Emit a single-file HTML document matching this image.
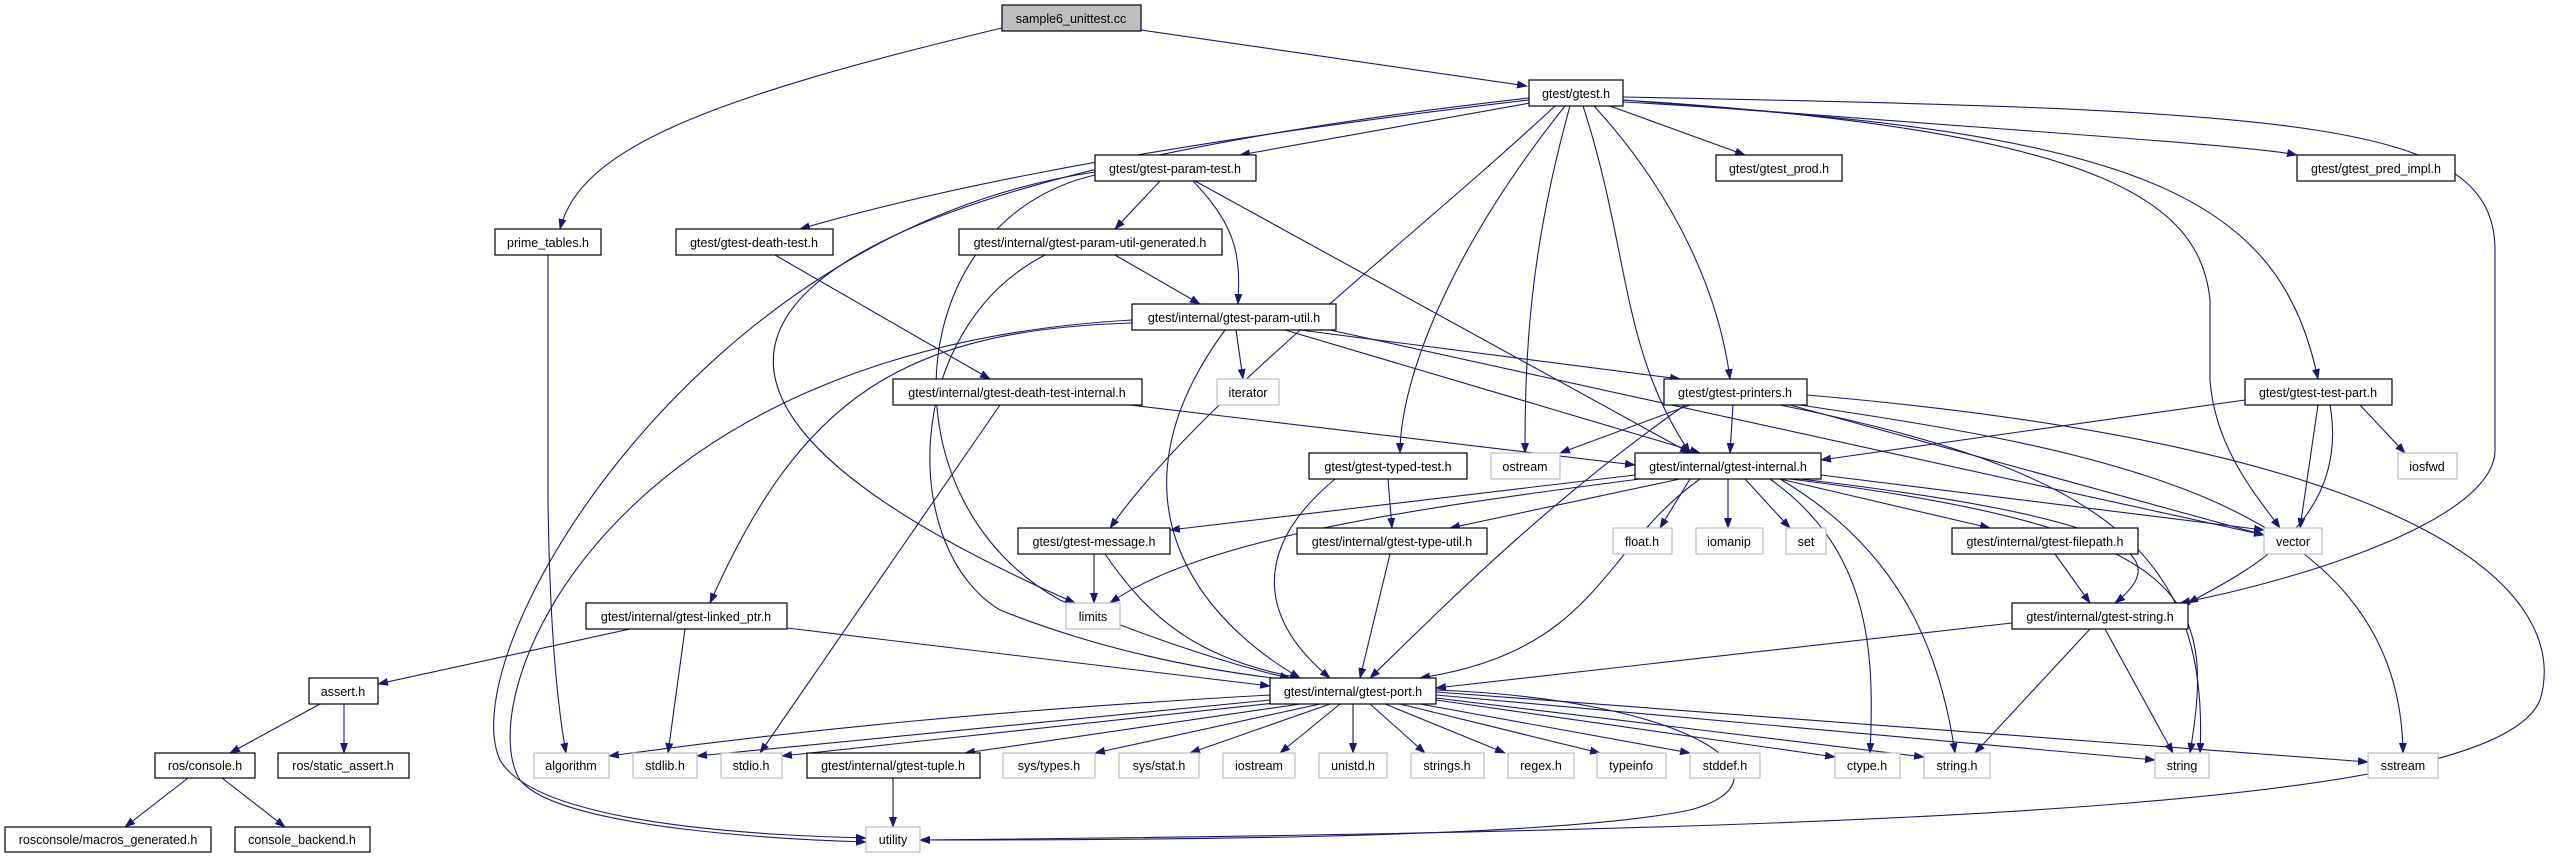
<!DOCTYPE html>
<html><head><meta charset="utf-8"><style>
html,body{margin:0;padding:0;background:#fff;}
svg{display:block;}
text{font-family:"Liberation Sans",sans-serif;font-size:12.5px;fill:#000;text-anchor:middle;}
.n{fill:#fff;stroke:#000;stroke-width:1.2;}
.g{fill:#fff;stroke:#bfbfbf;stroke-width:1.2;}
.e{fill:none;stroke:#191970;stroke-width:1.1;}
</style></head><body>
<svg width="2568" height="859" viewBox="0 0 2568 859" xmlns="http://www.w3.org/2000/svg">
<defs><marker id="a" markerWidth="11" markerHeight="8" refX="10" refY="4" orient="auto" markerUnits="userSpaceOnUse"><path d="M0,0 L11,4 L0,8 z" fill="#191970"/></marker></defs>
<g class="e" marker-end="url(#a)">
<path d="M1002,28 C700,100 580,150 560,229"/>
<path d="M1141,30 L1527,86"/>
<path d="M1530,103 L1240,155"/>
<path d="M1529,100 C1100,150 900,200 800,229"/>
<path d="M1610,106 L1745,155"/>
<path d="M1623,100 C2000,130 2250,145 2297,155"/>
<path d="M1594,106 C1680,200 1720,300 1730,379"/>
<path d="M1583,106 C1630,250 1620,350 1690,453"/>
<path d="M1565,106 C1450,250 1400,380 1400,453"/>
<path d="M1570,106 C1530,250 1525,350 1525,453"/>
<path d="M1555,106 C1400,250 1200,400 1110,528"/>
<path d="M1529,98 C800,180 500,350 1075,603"/>
<path d="M1623,100 C2100,130 2200,200 2210,300 L2210,380 C2215,450 2260,500 2280,528"/>
<path d="M1623,97 C2300,110 2495,120 2495,250 L2495,450 C2495,520 2300,580 2180,603"/>
<path d="M1623,102 C2150,130 2280,200 2318,379"/>
<path d="M548,255 L548,500 C550,650 560,720 566,753"/>
<path d="M775,255 L990,379"/>
<path d="M1160,181 L1115,229"/>
<path d="M1193,181 C1240,230 1240,260 1238,304"/>
<path d="M1195,181 L1690,453"/>
<path d="M1095,175 C900,220 880,500 1060,600 C1150,640 1250,670 1290,678"/>
<path d="M1095,172 C700,230 450,650 500,760 C540,830 800,836 866,838"/>
<path d="M1115,255 L1200,304"/>
<path d="M1045,255 C900,330 900,550 1000,610 C1100,650 1200,670 1290,680"/>
<path d="M1236,330 L1243,379"/>
<path d="M1300,330 L1680,379"/>
<path d="M1285,330 L1700,453"/>
<path d="M1132,323 C900,330 800,400 710,603"/>
<path d="M1225,330 C1100,500 1200,620 1300,678"/>
<path d="M1132,320 C600,350 470,700 520,780 C560,830 800,840 866,842"/>
<path d="M1330,330 L2264,535"/>
<path d="M1130,405 L1635,465"/>
<path d="M1000,405 L760,753"/>
<path d="M1733,405 L1730,453"/>
<path d="M1690,405 L1560,453"/>
<path d="M1685,405 C1550,500 1450,600 1370,678"/>
<path d="M1800,405 C2100,450 2400,500 2403,753"/>
<path d="M1780,405 C2100,470 2210,550 2200,753"/>
<path d="M1807,395 C2450,450 2570,600 2540,700 C2500,800 2000,830 920,840"/>
<path d="M1790,405 L2264,535"/>
<path d="M2245,400 L1821,460"/>
<path d="M2360,405 L2405,453"/>
<path d="M2318,405 L2300,528"/>
<path d="M2330,405 C2350,520 2250,570 2188,603"/>
<path d="M1388,479 L1392,528"/>
<path d="M1335,479 C1250,550 1260,620 1330,678"/>
<path d="M1635,475 L1170,530"/>
<path d="M1680,479 L1450,528"/>
<path d="M1690,479 L1660,528"/>
<path d="M1728,479 L1728,528"/>
<path d="M1745,479 L1790,528"/>
<path d="M1780,479 L1990,528"/>
<path d="M1800,479 C2150,520 2170,560 2115,603"/>
<path d="M1821,475 L2264,530"/>
<path d="M1640,479 C1400,510 1200,540 1110,603"/>
<path d="M1700,479 C1600,550 1600,650 1420,678"/>
<path d="M1770,479 C1870,550 1875,650 1870,753"/>
<path d="M1780,479 C1900,550 1940,650 1955,753"/>
<path d="M1790,479 C2200,530 2215,600 2190,753"/>
<path d="M1094,554 L1094,603"/>
<path d="M1105,554 C1150,620 1200,660 1300,678"/>
<path d="M1390,554 L1360,678"/>
<path d="M2055,554 L2090,603"/>
<path d="M2012,623 L1436,688"/>
<path d="M2090,629 L1975,753"/>
<path d="M2105,629 L2173,753"/>
<path d="M630,629 L378,684"/>
<path d="M685,629 L668,753"/>
<path d="M787,628 L1270,686"/>
<path d="M320,704 L230,753"/>
<path d="M344,704 L344,753"/>
<path d="M188,778 L125,827"/>
<path d="M222,778 L285,827"/>
<path d="M1270,695 C1000,710 800,730 609,756"/>
<path d="M1270,700 L697,756"/>
<path d="M1275,703 L782,756"/>
<path d="M1300,704 L965,753"/>
<path d="M1320,704 L1095,753"/>
<path d="M1330,704 L1190,753"/>
<path d="M1340,704 L1280,753"/>
<path d="M1353,704 L1353,753"/>
<path d="M1370,704 L1425,753"/>
<path d="M1385,704 L1505,753"/>
<path d="M1400,704 L1600,753"/>
<path d="M1420,704 L1690,753"/>
<path d="M1436,700 L1835,757"/>
<path d="M1436,698 L1924,757"/>
<path d="M1436,695 L2155,760"/>
<path d="M1436,692 L2368,762"/>
<path d="M1436,690 C1700,700 1800,780 1690,810 C1550,840 1100,840 920,840"/>
<path d="M893,778 L893,827"/>
</g>
<!-- nodes -->
<rect x="1002" y="5" width="139" height="26" fill="#bfbfbf" stroke="#000" stroke-width="1.2"/><text x="1071" y="23">sample6_unittest.cc</text>
<rect class="n" x="1529" y="80" width="94" height="26"/><text x="1576" y="98">gtest/gtest.h</text>
<rect class="n" x="1095" y="155" width="161" height="26"/><text x="1175" y="173">gtest/gtest-param-test.h</text>
<rect class="n" x="1716" y="155" width="126" height="26"/><text x="1779" y="173">gtest/gtest_prod.h</text>
<rect class="n" x="2297" y="155" width="158" height="26"/><text x="2376" y="173">gtest/gtest_pred_impl.h</text>
<rect class="n" x="495" y="229" width="106" height="26"/><text x="548" y="247">prime_tables.h</text>
<rect class="n" x="676" y="229" width="157" height="26"/><text x="754" y="247">gtest/gtest-death-test.h</text>
<rect class="n" x="959" y="229" width="263" height="26"/><text x="1090" y="247">gtest/internal/gtest-param-util-generated.h</text>
<rect class="n" x="1132" y="304" width="204" height="26"/><text x="1234" y="322">gtest/internal/gtest-param-util.h</text>
<rect class="n" x="893" y="379" width="249" height="26"/><text x="1017" y="397">gtest/internal/gtest-death-test-internal.h</text>
<rect class="g" x="1217" y="379" width="62" height="26"/><text x="1248" y="397">iterator</text>
<rect class="n" x="1664" y="379" width="143" height="26"/><text x="1735" y="397">gtest/gtest-printers.h</text>
<rect class="n" x="2245" y="379" width="147" height="26"/><text x="2318" y="397">gtest/gtest-test-part.h</text>
<rect class="n" x="1309" y="453" width="158" height="26"/><text x="1388" y="471">gtest/gtest-typed-test.h</text>
<rect class="g" x="1491" y="453" width="69" height="26"/><text x="1525" y="471">ostream</text>
<rect class="n" x="1635" y="453" width="186" height="26"/><text x="1728" y="471">gtest/internal/gtest-internal.h</text>
<rect class="g" x="2398" y="453" width="59" height="26"/><text x="2427" y="471">iosfwd</text>
<rect class="n" x="1018" y="528" width="152" height="26"/><text x="1094" y="546">gtest/gtest-message.h</text>
<rect class="n" x="1297" y="528" width="190" height="26"/><text x="1392" y="546">gtest/internal/gtest-type-util.h</text>
<rect class="g" x="1613" y="528" width="59" height="26"/><text x="1642" y="546">float.h</text>
<rect class="g" x="1696" y="528" width="67" height="26"/><text x="1729" y="546">iomanip</text>
<rect class="g" x="1786" y="528" width="40" height="26"/><text x="1806" y="546">set</text>
<rect class="n" x="1952" y="528" width="186" height="26"/><text x="2045" y="546">gtest/internal/gtest-filepath.h</text>
<rect class="g" x="2264" y="528" width="58" height="26"/><text x="2293" y="546">vector</text>
<rect class="g" x="1066" y="603" width="54" height="26"/><text x="1093" y="621">limits</text>
<rect class="n" x="586" y="603" width="201" height="26"/><text x="686" y="621">gtest/internal/gtest-linked_ptr.h</text>
<rect class="n" x="2012" y="603" width="176" height="26"/><text x="2100" y="621">gtest/internal/gtest-string.h</text>
<rect class="n" x="309" y="678" width="69" height="26"/><text x="343" y="696">assert.h</text>
<rect class="n" x="1270" y="678" width="166" height="26"/><text x="1353" y="696">gtest/internal/gtest-port.h</text>
<rect class="n" x="155" y="753" width="100" height="25"/><text x="205" y="770">ros/console.h</text>
<rect class="n" x="278" y="753" width="131" height="25"/><text x="343" y="770">ros/static_assert.h</text>
<rect class="g" x="534" y="753" width="75" height="25"/><text x="571" y="770">algorithm</text>
<rect class="g" x="633" y="753" width="64" height="25"/><text x="665" y="770">stdlib.h</text>
<rect class="g" x="721" y="753" width="61" height="25"/><text x="751" y="770">stdio.h</text>
<rect class="n" x="807" y="753" width="173" height="25"/><text x="893" y="770">gtest/internal/gtest-tuple.h</text>
<rect class="g" x="1003" y="753" width="92" height="25"/><text x="1049" y="770">sys/types.h</text>
<rect class="g" x="1119" y="753" width="80" height="25"/><text x="1159" y="770">sys/stat.h</text>
<rect class="g" x="1223" y="753" width="72" height="25"/><text x="1259" y="770">iostream</text>
<rect class="g" x="1319" y="753" width="68" height="25"/><text x="1353" y="770">unistd.h</text>
<rect class="g" x="1411" y="753" width="73" height="25"/><text x="1447" y="770">strings.h</text>
<rect class="g" x="1508" y="753" width="66" height="25"/><text x="1541" y="770">regex.h</text>
<rect class="g" x="1597" y="753" width="69" height="25"/><text x="1631" y="770">typeinfo</text>
<rect class="g" x="1690" y="753" width="70" height="25"/><text x="1725" y="770">stddef.h</text>
<rect class="g" x="1835" y="753" width="65" height="25"/><text x="1867" y="770">ctype.h</text>
<rect class="g" x="1924" y="753" width="66" height="25"/><text x="1957" y="770">string.h</text>
<rect class="g" x="2155" y="753" width="54" height="25"/><text x="2182" y="770">string</text>
<rect class="g" x="2368" y="753" width="70" height="25"/><text x="2403" y="770">sstream</text>
<rect class="n" x="5" y="827" width="206" height="25"/><text x="108" y="844">rosconsole/macros_generated.h</text>
<rect class="n" x="235" y="827" width="135" height="25"/><text x="302" y="844">console_backend.h</text>
<rect class="g" x="866" y="827" width="54" height="25"/><text x="893" y="844">utility</text>
</svg>
</body></html>
